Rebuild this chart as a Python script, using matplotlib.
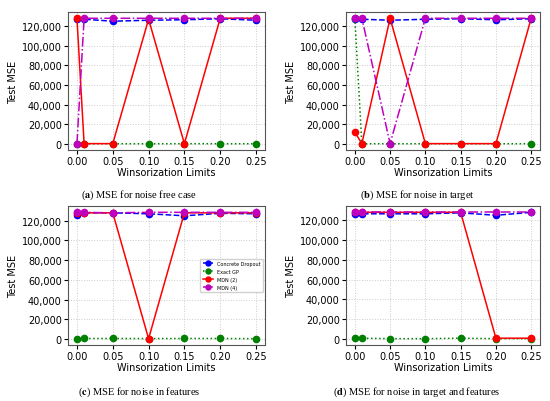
import numpy as np
import matplotlib.pyplot as plt
from matplotlib.ticker import FuncFormatter

plt.rcParams['mathtext.fontset'] = 'stix'

limits = [0.00, 0.01, 0.05, 0.10, 0.15, 0.20, 0.25]
tick_labels = ['0.00', '0.05', '0.10', '0.15', '0.20', '0.25']
names = ['Concrete Dropout', 'Exact GP', 'MDN (2)', 'MDN (4)']

# (a) noise free
a_dropout = [127500, 127000, 125000, 126000, 126500, 127500, 126000]
a_gp = [200, 150, 100, 100, 150, 100, 100]
a_mdn2 = [128000, 200, 200, 127000, 200, 128000, 128000]
a_mdn4 = [200, 128000, 128000, 128000, 128000, 128000, 128000]

# (b) noise in target
b_dropout = [127000, 127000, 126000, 127000, 127500, 126500, 127500]
b_gp = [128000, 100, 100, 100, 100, 100, 100]
b_mdn2 = [12000, 200, 128000, 200, 200, 200, 128000]
b_mdn4 = [128000, 128000, 200, 128000, 128000, 128000, 128000]

# (c) noise in features
c_dropout = [125500, 128000, 128000, 127000, 125000, 127500, 127000]
c_gp = [300, 500, 500, 400, 500, 500, 300]
c_mdn2 = [128000, 128000, 128000, 300, 128000, 128000, 128000]
c_mdn4 = [128500, 128500, 128000, 128500, 128500, 128500, 128500]

# (d) noise in target and features
d_dropout = [126500, 126500, 126500, 126500, 127500, 125000, 128000]
d_gp = [800, 800, 300, 300, 800, 300, 300]
d_mdn2 = [128000, 128000, 128000, 128000, 128000, 800, 800]
d_mdn4 = [128000, 128000, 128000, 128000, 128000, 128000, 128000]

panels = [
    ('a', 'MSE for noise free case', [a_dropout, a_gp, a_mdn2, a_mdn4]),
    ('b', 'MSE for noise in target', [b_dropout, b_gp, b_mdn2, b_mdn4]),
    ('c', 'MSE for noise in features', [c_dropout, c_gp, c_mdn2, c_mdn4]),
    ('d', 'MSE for noise in target and features', [d_dropout, d_gp, d_mdn2, d_mdn4]),
]

colors = ['blue', 'green', 'red', 'm']
styles = ['--', ':', '-', '-.']

W, H = 550, 402
fig = plt.figure(figsize=(W / 100, H / 100), dpi=100)

# axes boxes in pixels: left, top, right, bottom
boxes = [(68, 13, 265, 151), (346, 13, 540, 151),
         (68, 207, 265, 346), (346, 207, 540, 346)]
captions_xy = [(139, 195), (417, 195), (139, 392), (417, 392)]

fmt = FuncFormatter(lambda v, p: f'{int(v):,}')

for i, (letter, title, series) in enumerate(panels):
    l, t, r, b = boxes[i]
    ax = fig.add_axes([l / W, 1 - b / H, (r - l) / W, (b - t) / H])
    for vals, name, c, ls in zip(series, names, colors, styles):
        ax.plot(limits, vals, ls, color=c, marker='o', markersize=4.5,
                linewidth=1.1, label=name)
    ax.set_xticks([0.0, 0.05, 0.10, 0.15, 0.20, 0.25])
    ax.set_xticklabels(tick_labels)
    ax.yaxis.set_major_formatter(fmt)
    ax.set_yticks([0, 20000, 40000, 60000, 80000, 100000, 120000])
    ax.tick_params(labelsize=7, length=3, pad=1.5)
    ax.set_xlabel('Winsorization Limits', fontsize=7, labelpad=0.5)
    ax.set_ylabel('Test MSE', fontsize=7, labelpad=3)
    ax.grid(True, linestyle=':', color='#cccccc', linewidth=0.7)
    for s in ax.spines.values():
        s.set_color('#555555')
    if letter == 'c':
        ax.legend(loc='center right', fontsize=3.5, framealpha=0.9,
                  handlelength=2.0, borderpad=0.5, labelspacing=0.6,
                  markerscale=0.8)
    cx, cy = captions_xy[i]
    fig.text(cx / W, 1 - cy / H,
             r'($\mathbf{' + letter + r'}$) ' + title,
             ha='center', va='center', fontsize=7.5,
             family='Liberation Serif')

fig.savefig('out.png', dpi=100)
